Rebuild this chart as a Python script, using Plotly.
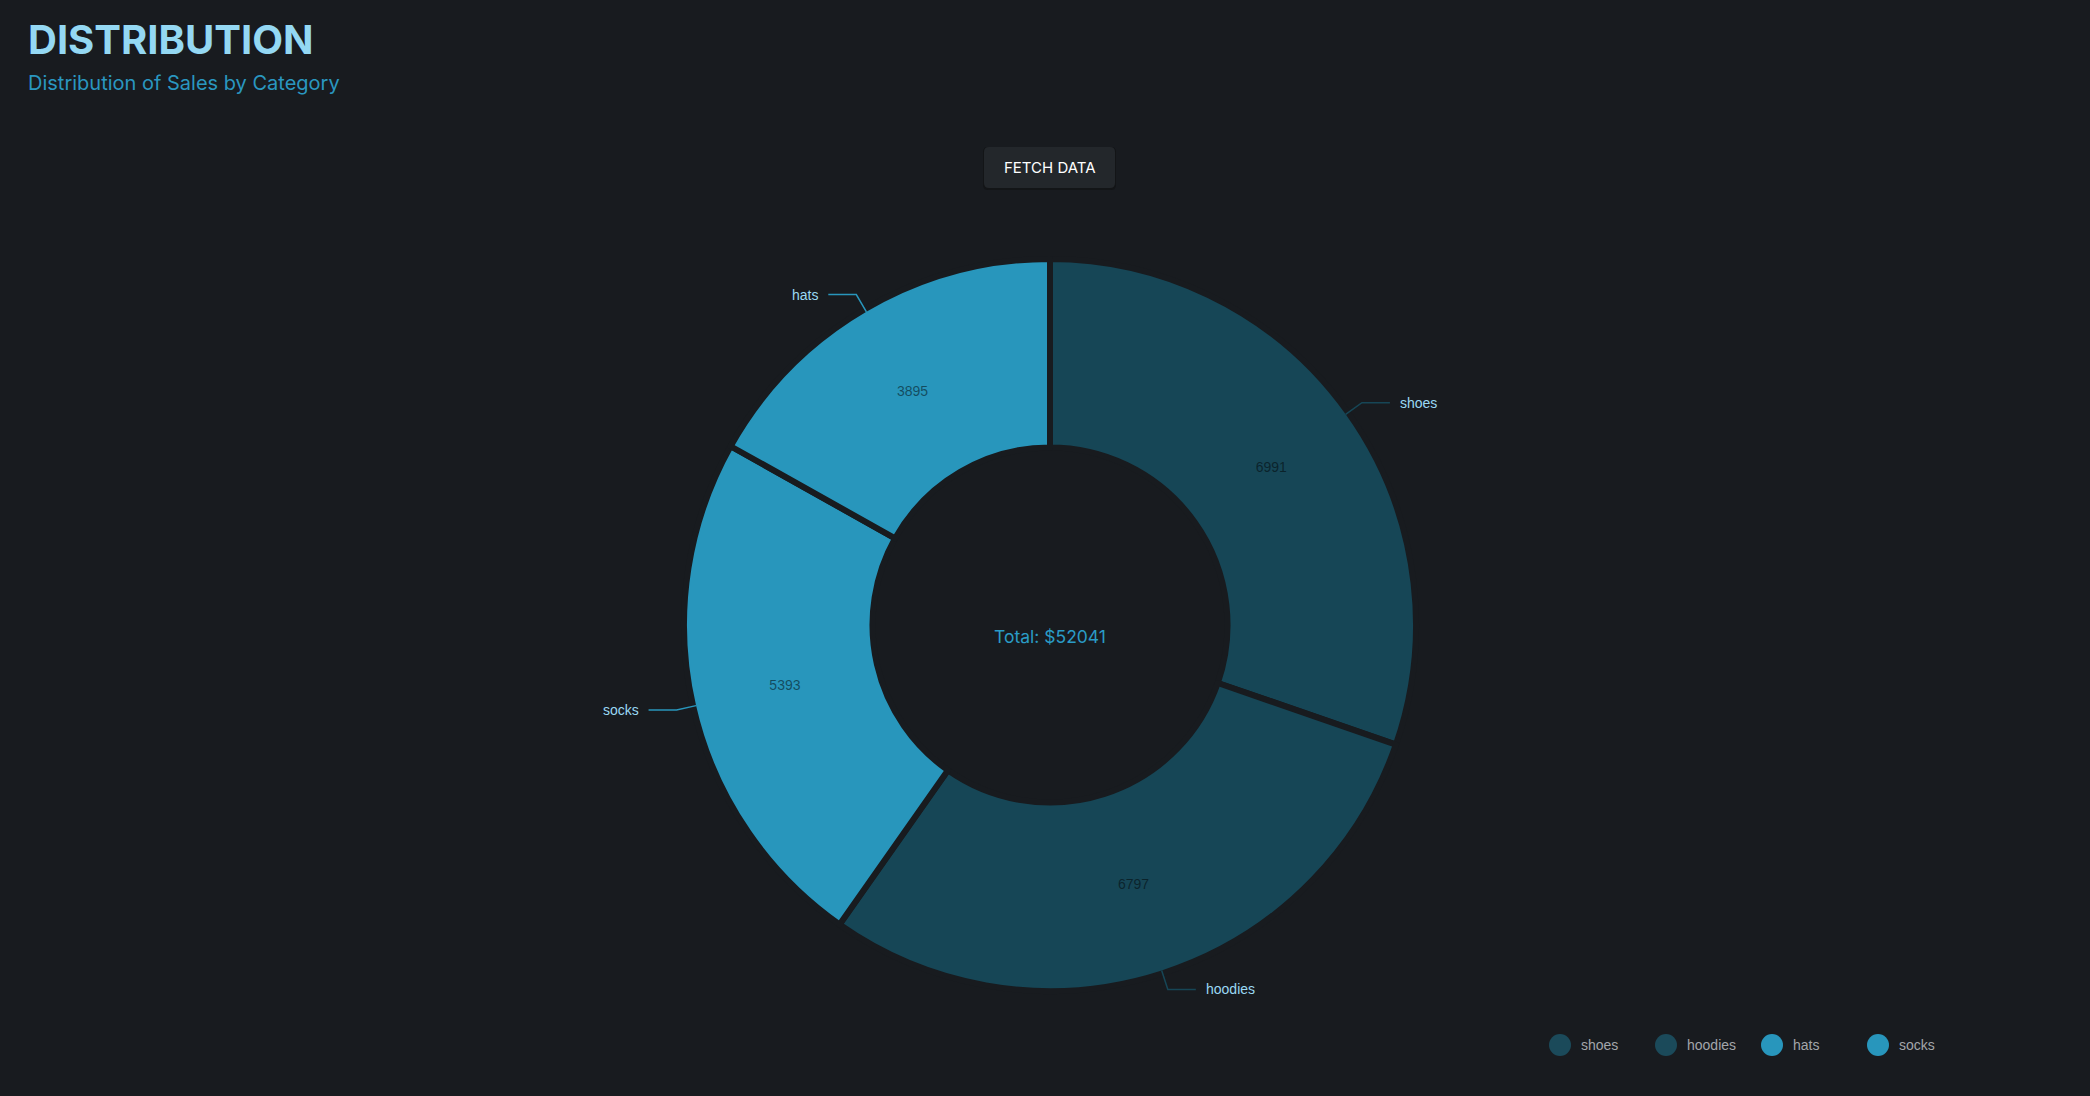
import math
import plotly.graph_objects as go

# ---- data ----
categories = ["shoes", "hoodies", "hats", "socks"]
sales = [6991, 6797, 3895, 5393]
total_label = "Total: $52041"
title_text = "DISTRIBUTION"
subtitle_text = "Distribution of Sales by Category"
button_text = "FETCH DATA"

# ---- styles ----
W, H = 2090, 1096
BG = "#181B1F"
DARK = "#164656"
LIGHT = "#2896BC"
slice_colors = {"shoes": DARK, "hoodies": DARK, "hats": LIGHT, "socks": LIGHT}
legend_colors = {"shoes": "#1B4A5A", "hoodies": "#1B4A5A", "hats": "#2896BC", "socks": "#2896BC"}

CX, CY = 1050, 625
R = 366
GAP = 6
HOLE = 0.485

fig = go.Figure()

# hidden pixel-space axes for overlays
fig.update_layout(
    xaxis=dict(range=[0, W], visible=False, domain=[0, 1], fixedrange=True),
    yaxis=dict(range=[H, 0], visible=False, domain=[0, 1], fixedrange=True),
)

fig.add_trace(go.Pie(
    labels=categories,
    values=sales,
    marker=dict(colors=[slice_colors[c] for c in categories], line=dict(color=BG, width=GAP)),
    hole=HOLE,
    sort=True,
    direction="clockwise",
    textinfo="value",
    textposition="inside",
    insidetextorientation="horizontal",
    insidetextfont=dict(family="Liberation Sans, Arial", size=14, color="rgba(0,0,0,0.5)"),
    hoverinfo="skip",
    showlegend=False,
    domain=dict(x=[(CX - 500) / W, (CX + 500) / W], y=[1 - (CY + R) / H, 1 - (CY - R) / H]),
))

# connectors + outside labels (angles derived from data, same order as the pie)
order = sorted(range(len(sales)), key=lambda i: -sales[i])
tot = sum(sales)
start = 0.0
shapes = []
annotations = []
Rv = R - GAP / 2
for i in order:
    span = 360.0 * sales[i] / tot
    mid = math.radians(start + span / 2)
    start += span
    s, c = math.sin(mid), math.cos(mid)
    x0, y0 = CX + Rv * s, CY - Rv * c
    x1, y1 = CX + (Rv + 20) * s, CY - (Rv + 20) * c
    sign = 1 if s >= 0 else -1
    x2 = x1 + sign * 28
    col = slice_colors[categories[i]]
    shapes.append(dict(type="path", xref="x", yref="y",
                       path=f"M{x0},{y0} L{x1},{y1} L{x2},{y1}",
                       line=dict(color=col, width=1.5), layer="above"))
    annotations.append(dict(x=x2 + sign * 8, y=y1, xref="x", yref="y", text=categories[i],
                            showarrow=False, xanchor="left" if sign > 0 else "right", yanchor="middle",
                            font=dict(family="Liberation Sans, Arial", size=14, color="#9AD9F4")))

# center total
annotations.append(dict(x=CX, y=CY + 11, xref="x", yref="y", text=total_label, showarrow=False,
                        xanchor="center", yanchor="middle",
                        font=dict(family="Inter", size=17.5, color="#2A9BC6")))

# title / subtitle
annotations.append(dict(x=26, y=39, xref="x", yref="y", text=f"<b>{title_text}</b>", showarrow=False,
                        xanchor="left", yanchor="middle",
                        font=dict(family="Inter", size=40, color="#94D8F3")))
annotations.append(dict(x=26, y=83, xref="x", yref="y", text=subtitle_text, showarrow=False,
                        xanchor="left", yanchor="middle",
                        font=dict(family="Inter", size=20, color="#2A97C0")))

# button
def rrect(x0, y0, x1, y1, r):
    return (f"M{x0+r},{y0} L{x1-r},{y0} Q{x1},{y0} {x1},{y0+r} L{x1},{y1-r} Q{x1},{y1} {x1-r},{y1} "
            f"L{x0+r},{y1} Q{x0},{y1} {x0},{y1-r} L{x0},{y0+r} Q{x0},{y0} {x0+r},{y0} Z")

shapes.append(dict(type="path", xref="x", yref="y", path=rrect(983, 147, 1116, 190, 5),
                   fillcolor="#131517", line=dict(width=0), layer="below"))
shapes.append(dict(type="path", xref="x", yref="y", path=rrect(984, 147, 1115, 188, 5),
                   fillcolor="#23272B", line=dict(width=0), layer="below"))
annotations.append(dict(x=1050, y=167, xref="x", yref="y", text=button_text, showarrow=False,
                        xanchor="center", yanchor="middle",
                        font=dict(family="Inter", size=15, color="#FFFFFF")))

# custom legend
LX0, LY, LSTEP = 1560, 1045, 106
fig.add_trace(go.Scatter(
    x=[LX0 + k * LSTEP for k in range(len(categories))],
    y=[LY] * len(categories),
    mode="markers",
    marker=dict(size=22, color=[legend_colors[c] for c in categories], line=dict(width=0)),
    hoverinfo="skip", showlegend=False,
))
for k, cat in enumerate(categories):
    annotations.append(dict(x=LX0 + k * LSTEP + 19, y=LY, xref="x", yref="y", text=cat, showarrow=False,
                            xanchor="left", yanchor="middle",
                            font=dict(family="Liberation Sans, Arial", size=14, color="#A3A6AA")))

fig.update_layout(
    width=W, height=H,
    margin=dict(l=0, r=0, t=0, b=0),
    paper_bgcolor=BG, plot_bgcolor=BG,
    shapes=shapes, annotations=annotations,
    showlegend=False,
)

fig.write_html("out.html", config={"displayModeBar": False})

# remove default page margin so the figure fills the window exactly
with open("out.html", "r", encoding="utf-8") as f:
    html = f.read()
html = html.replace("<head>", f"<head><style>html,body{{margin:0;padding:0;background:{BG};overflow:hidden;}}</style>", 1)
with open("out.html", "w", encoding="utf-8") as f:
    f.write(html)
